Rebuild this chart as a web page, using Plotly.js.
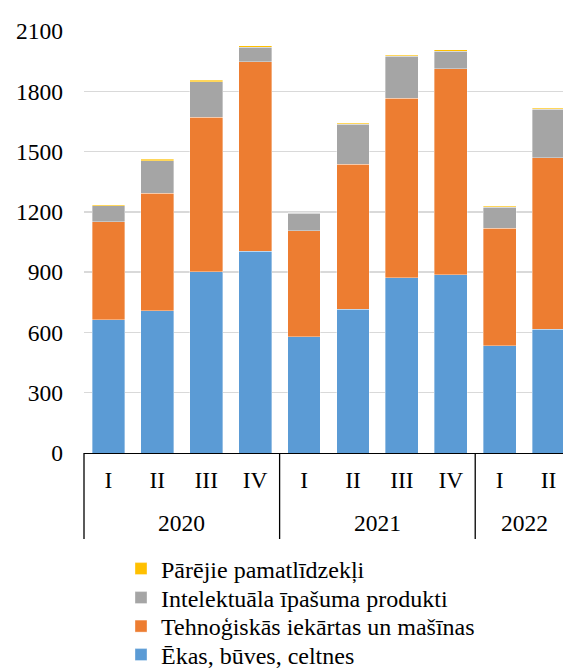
<!DOCTYPE html>
<html>
<head>
<meta charset="utf-8">
<script src="https://cdn.plot.ly/plotly-3.0.1.min.js"></script>
<style>
html, body { margin: 0; padding: 0; overflow: hidden; background: #fff; }
#chart { width: 563px; height: 700px; }
</style>
</head>
<body>
<div id="chart"></div>
<script>
// ---- Data ----
var years = ['2020','2020','2020','2020','2021','2021','2021','2021','2022','2022'];
var quarters = ['I','II','III','IV','I','II','III','IV','I','II'];
var buildings = [662, 707, 902, 1005, 579, 715, 872, 887, 534, 615];
var machinery = [489, 585, 770, 942, 527, 721, 893, 1024, 584, 855];
var intellectual = [80, 163, 176, 72, 87, 199, 209, 89, 104, 240];
var other = [5, 6, 8, 8, 3, 5, 6, 7, 5, 5];
var seriesNames = ['Ēkas, būves, celtnes', 'Tehnoģiskās iekārtas un mašīnas', 'Intelektuāla īpašuma produkti', 'Pārējie pamatlīdzekļi'];
var seriesColors = ['#5B9BD5', '#ED7D31', '#A5A5A5', '#FFC000'];
var yTicks = [0, 300, 600, 900, 1200, 1500, 1800, 2100];

var FONT = 'Liberation Serif, Times New Roman, serif';
var idx = quarters.map(function (q, i) { return i; });
var xRange = [-0.5, 9.295];
var plotH = 422;

var seriesData = [buildings, machinery, intellectual, other];
var legendIds = ['legend4', 'legend3', 'legend2', 'legend'];
var traces = seriesData.map(function (vals, k) {
  return {
    type: 'bar',
    x: idx,
    y: vals,
    name: seriesNames[k],
    legend: legendIds[k],
    marker: { color: seriesColors[k], line: { color: 'rgba(255,255,255,0.6)', width: 0.6 } },
    hoverinfo: 'y+name'
  };
});

// group years
var groups = [];
years.forEach(function (y, i) {
  if (!groups.length || groups[groups.length - 1].name !== y) groups.push({ name: y, start: i, end: i });
  else groups[groups.length - 1].end = i;
});

function toPaper(v) { return (v - xRange[0]) / (xRange[1] - xRange[0]); }

var annotations = groups.map(function (g) {
  return {
    text: g.name, x: (g.start + g.end) / 2, xref: 'x', y: 0, yref: 'paper',
    yanchor: 'middle', xanchor: 'center', yshift: -70, showarrow: false,
    font: { family: FONT, size: 23.5, color: '#000' }
  };
});

var dividerLen = -86 / plotH;
var shapes = groups.map(function (g) {
  var b = g.start - 0.5;
  return {
    type: 'line', xref: 'paper', yref: 'paper', x0: toPaper(b), x1: toPaper(b), y0: 0, y1: dividerLen,
    line: { color: '#000', width: 1.3 }
  };
});

var layout = {
  width: 563, height: 700,
  margin: { l: 84, r: 0, t: 31, b: 247, autoexpand: false },
  paper_bgcolor: '#fff', plot_bgcolor: '#fff',
  barmode: 'stack', bargap: 0.33,
  font: { family: FONT, size: 23.5, color: '#000' },
  showlegend: true,
  xaxis: {
    range: xRange, tickmode: 'array', tickvals: idx, ticktext: quarters,
    showgrid: false, zeroline: false, showline: true, linecolor: '#000', linewidth: 1.3,
    ticks: '', ticklabelstandoff: 5, tickfont: { family: FONT, size: 23.5, color: '#000' },
    fixedrange: true
  },
  yaxis: {
    range: [0, 2100], tickmode: 'array', tickvals: yTicks, ticktext: yTicks.map(String),
    showgrid: true, gridcolor: '#D9D9D9', gridwidth: 1.3, zeroline: false, showline: false,
    ticks: '', ticklabelstandoff: 20, tickfont: { family: FONT, size: 23.5, color: '#000' },
    fixedrange: true
  },
  annotations: annotations,
  shapes: shapes
};

// one legend per row (top to bottom)
var rowCenters = [569, 598, 626.5, 655];
['legend', 'legend2', 'legend3', 'legend4'].forEach(function (id, r) {
  layout[id] = {
    orientation: 'v',
    x: (121 - 84) / 479, xanchor: 'left',
    y: (453 - rowCenters[r]) / plotH, yanchor: 'middle',
    font: { family: FONT, size: 24, color: '#000' },
    bgcolor: 'rgba(0,0,0,0)', borderwidth: 0
  };
});

Plotly.newPlot('chart', traces, layout, { displayModeBar: false, staticPlot: true });
</script>
</body>
</html>
